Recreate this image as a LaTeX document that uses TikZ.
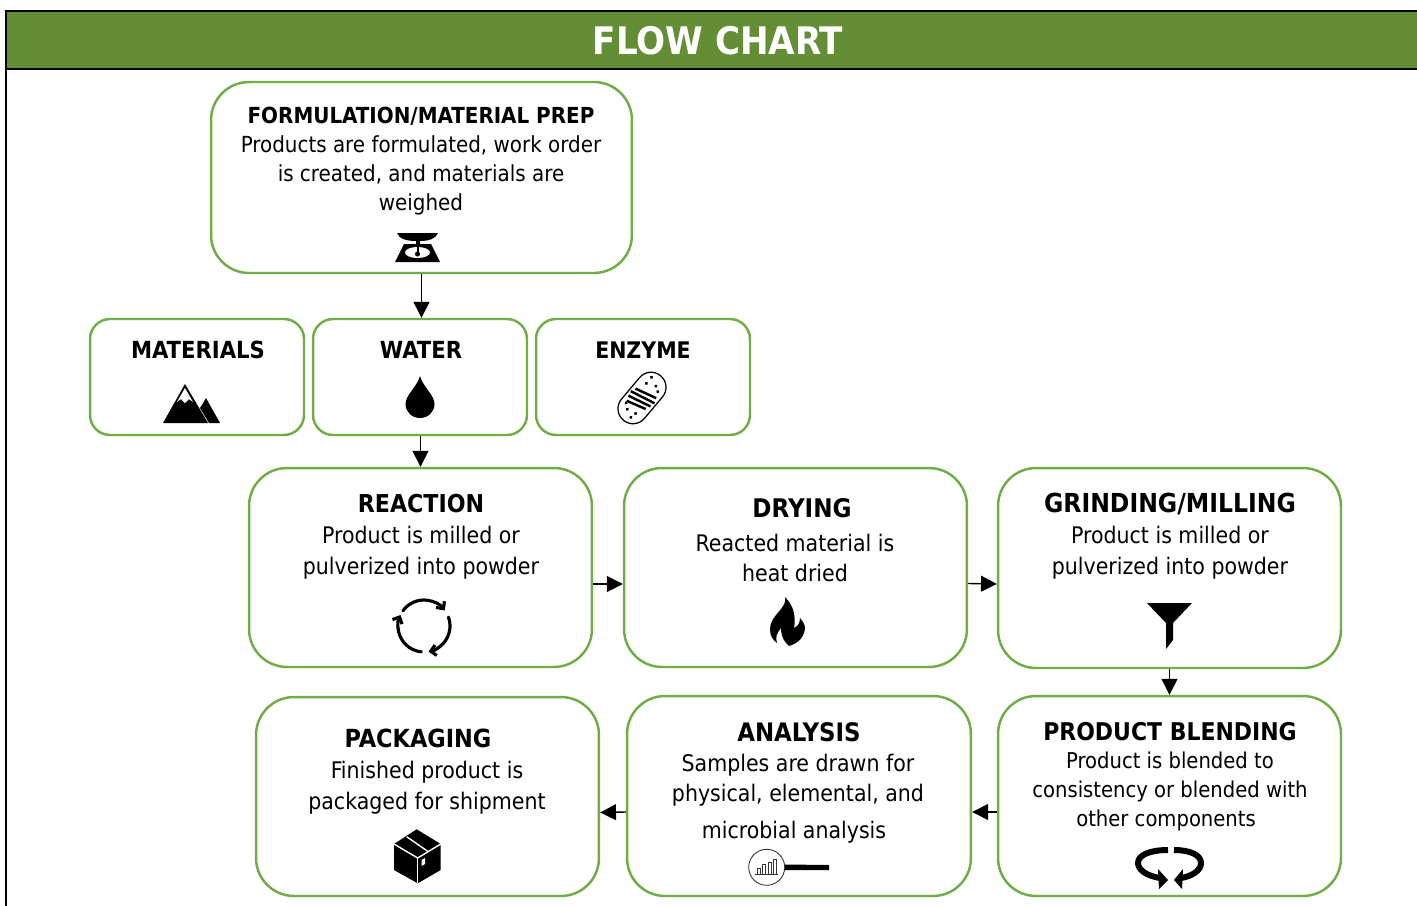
\documentclass[tikz,border=0pt]{standalone}
\usepackage{fontspec}
\setmainfont{DejaVu Sans Condensed}
\usetikzlibrary{arrows.meta}
\definecolor{bandgreen}{HTML}{638E35}
\definecolor{boxgreen}{HTML}{70AD47}
\tikzset{
  flowbox/.style={draw=boxgreen,line width=1.4pt,fill=white,rounded corners=0.76cm,inner sep=0pt},
  smallbox/.style={draw=boxgreen,line width=1.4pt,fill=white,rounded corners=0.4cm,inner sep=0pt},
  headtext/.style={font=\fontsize{#1}{16}\selectfont\bfseries,inner sep=0pt},
  bodytext/.style={font=\fontsize{13}{17.6}\selectfont,align=center,inner sep=0pt},
  flowarrow/.style={-{Triangle[length=9pt,width=9pt]},line width=0.8pt,black},
  iconfill/.style={fill=black,draw=none},
  cutline/.style={draw=white,line width=0.8pt},
  cyclearc/.style={black,line width=1.8pt,line cap=round,-{Straight Barb[length=3pt,width=6pt]}}
}
\begin{document}
\begin{tikzpicture}[x=0.02cm,y=-0.02cm]
\useasboundingbox (0,0) rectangle (1417,906);
% title band
\fill[bandgreen] (6,11) rectangle (1417,69);
\draw[black,line width=1.2pt] (6,906) -- (6,11) -- (1417,11);
\draw[black,line width=1.2pt] (6,69) -- (1417,69);
\node[font=\fontsize{21.6}{25}\selectfont\bfseries,text=white,inner sep=0pt] (title) at (718,41) {FLOW CHART};

% boxes
\node[flowbox,minimum width=8.42cm,minimum height=3.82cm] (formulation) at (421.5,177.5) {};
\node[smallbox,minimum width=4.28cm,minimum height=2.32cm] (materials) at (197,377) {};
\node[smallbox,minimum width=4.28cm,minimum height=2.32cm] (water) at (420,377) {};
\node[smallbox,minimum width=4.28cm,minimum height=2.32cm] (enzyme) at (643,377) {};
\node[flowbox,minimum width=6.86cm,minimum height=3.98cm] (reaction) at (420.5,567.5) {};
\node[flowbox,minimum width=6.86cm,minimum height=3.98cm] (drying) at (795.5,567.5) {};
\node[flowbox,minimum width=6.86cm,minimum height=4cm] (grinding) at (1169.5,568) {};
\node[flowbox,minimum width=6.86cm,minimum height=4cm] (blending) at (1169.5,796) {};
\node[flowbox,minimum width=6.88cm,minimum height=4cm] (analysis) at (799,796) {};
\node[flowbox,minimum width=6.86cm,minimum height=3.98cm] (packaging) at (427.5,796.5) {};

% texts
\node[headtext=12.6] (formulationhead) at (421,116) {FORMULATION/MATERIAL PREP};
\node[bodytext,font=\fontsize{12.6}{16.5}\selectfont] (formulationbody) at (421,175) {Products are formulated, work order\\is created, and materials are\\weighed};
\node[headtext=13.4] (materialshead) at (198,350) {MATERIALS};
\node[headtext=13.4] (waterhead) at (421,350) {WATER};
\node[headtext=13] (enzymehead) at (643,350) {ENZYME};
\node[headtext=14] (reactionhead) at (421,504) {REACTION};
\node[bodytext] (reactionbody) at (421,553) {Product is milled or\\pulverized into powder};
\node[headtext=14.6] (dryinghead) at (802,508) {DRYING};
\node[bodytext] (dryingbody) at (795,558) {Reacted material is\\heat dried};
\node[headtext=14.9] (grindinghead) at (1170,504) {GRINDING/MILLING};
\node[bodytext] (grindingbody) at (1170,553) {Product is milled or\\pulverized into powder};
\node[headtext=13.9] (blendinghead) at (1170,732) {PRODUCT BLENDING};
\node[bodytext,font=\fontsize{12.4}{16.6}\selectfont] (blendingbody) at (1170,791.5) {Product is blended to\\consistency or blended with\\other components\hspace*{4.5pt}};
\node[headtext=14.5] (analysishead) at (799,732) {ANALYSIS};
\node[bodytext] (analysisbody) at (798,798.5) {Samples are drawn for\\physical, elemental, and\\[3.2pt]microbial analysis\hspace*{4.5pt}};
\node[headtext=14.2] (packaginghead) at (418,738) {PACKAGING};
\node[bodytext] (packagingbody) at (427,788) {Finished product is\\packaged for shipment};

% connectors
\draw[flowarrow] (formulation.south) -- (formulation.south |- water.north);
\draw[flowarrow] (water.south -| reaction.north) -- (reaction.north);
\draw[flowarrow] ([yshift=-9.4pt]reaction.east) -- ([yshift=-9.4pt]drying.west);
\draw[flowarrow] ([yshift=-9.1pt]drying.east) -- ([yshift=-9.1pt]grinding.west);
\draw[flowarrow] (grinding.south) -- (blending.north);
\draw[flowarrow] ([yshift=-9.1pt]blending.west) -- ([yshift=-9.1pt]analysis.east);
\draw[flowarrow] ([yshift=-9.1pt]analysis.west) -- ([yshift=-9.1pt]packaging.east);

% scale icon
\fill[iconfill] (397,233) -- (438,233) .. controls (436,239) and (428,241) .. (420,241) -- (420,244) -- (431,244) -- (440,262) -- (395,262) -- (404,244) -- (416,244) -- (416,241) .. controls (407,241) and (399,239) .. (397,233) -- cycle;
\fill[white] (417.5,252.5) ellipse (0.25cm and 0.11cm);
\fill[iconfill] (416.5,246) rectangle (418.5,254);
\fill[iconfill] (417.5,254) circle (0.05cm);

% mountain icon
\fill[iconfill] (185,384) -- (208,423) -- (163,423) -- cycle;
\fill[white] (185,388) -- (193,402) -- (189,399) -- (185,403) -- (181,399) -- (177,402) -- cycle;
\fill[iconfill] (206,398) -- (220,423) -- (209,423) -- (200,408) -- cycle;

% drop icon
\fill[iconfill] (420,376) .. controls (423,387) and (434.5,395) .. (434.5,404) .. controls (434.5,412) and (428,418) .. (420,418) .. controls (412,418) and (405.5,412) .. (405.5,404) .. controls (405.5,395) and (417,387) .. (420,376) -- cycle;

% enzyme icon
\begin{scope}[shift={(642,398)},rotate=50]
\draw[black,line width=0.7pt,rounded corners=0.3cm] (-29,-15) rectangle (29,15);
\foreach \sx/\sy in {-9/10,-4/12,1/13,6/11}
  \draw[black,line width=1.4pt] (\sx-3,-\sy) -- (\sx+3,\sy);
\foreach \sx/\sy in {14/-6,18/3,15/8,22/-6,-16/5,-18/-4,-22/4,-14/-9}
  \fill[iconfill] (\sx,\sy) circle (0.035cm);
\end{scope}

% cycle icon
\draw[cyclearc] (424,626) ++(144:0.52cm) arc[start angle=144,end angle=37,radius=0.52cm];
\draw[cyclearc] (424,626) ++(20:0.52cm) arc[start angle=20,end angle=-80,radius=0.52cm];
\draw[cyclearc] (424,626) ++(-96:0.52cm) arc[start angle=-96,end angle=-205,radius=0.52cm];

% flame icon
\fill[iconfill] (785,597) .. controls (788,608) and (770,615) .. (770,629) .. controls (770,636) and (773,640) .. (777,643) .. controls (775,637) and (777,633) .. (781,628) .. controls (781,636) and (784,642) .. (789,646) .. controls (799,643) and (805,636) .. (805,627) .. controls (804,623) and (802,620) .. (800,618) .. controls (800,623) and (798,626) .. (794,628) .. controls (796,617) and (794,606) .. (785,597) -- cycle;

% funnel icon
\fill[iconfill] (1147,603) -- (1192,603) -- (1173,623) -- (1173,640) -- (1166,649) -- (1166,623) -- cycle;

% blending icon
\draw[black,line width=3.4pt] (1168,850) .. controls (1150,850) and (1138,855) .. (1138,863) .. controls (1138,870) and (1147,876) .. (1160,878);
\fill[iconfill] (1168,880) -- (1158,869) -- (1159,889) -- cycle;
\draw[black,line width=3.4pt] (1174,850) .. controls (1190,850) and (1201,855) .. (1201,863) .. controls (1201,870) and (1193,876) .. (1181,878);
\fill[iconfill] (1174,880) -- (1183,869) -- (1182,889) -- cycle;

% box icon
\fill[iconfill] (416.7,829.3) -- (440.7,844) -- (440.7,870) -- (417.7,883.3) -- (394,870) -- (394,844) -- cycle;
\draw[cutline] (394,844) -- (417.7,858) -- (440.7,844);
\draw[cutline] (417.7,858) -- (417.7,883.3);
\draw[cutline] (406.7,836.7) -- (428.3,851.7);
\fill[white] (421.5,860) -- (425,858) -- (425,864) -- (421.5,866) -- cycle;

% magnifier icon
\draw[black!80,line width=0.5pt] (766.7,867.3) circle (0.36cm);
\fill[iconfill] (785,864.5) -- (829,865) -- (829,870) -- (785,870) -- cycle;
\foreach \bx/\by in {757/868,762.5/864.5,768/862,773.5/859.5}
  \draw[black!80,line width=0.45pt] (\bx,874) rectangle (\bx+3,\by);
\draw[black!80,line width=0.5pt] (755,874) -- (778,874);
\end{tikzpicture}
\end{document}
